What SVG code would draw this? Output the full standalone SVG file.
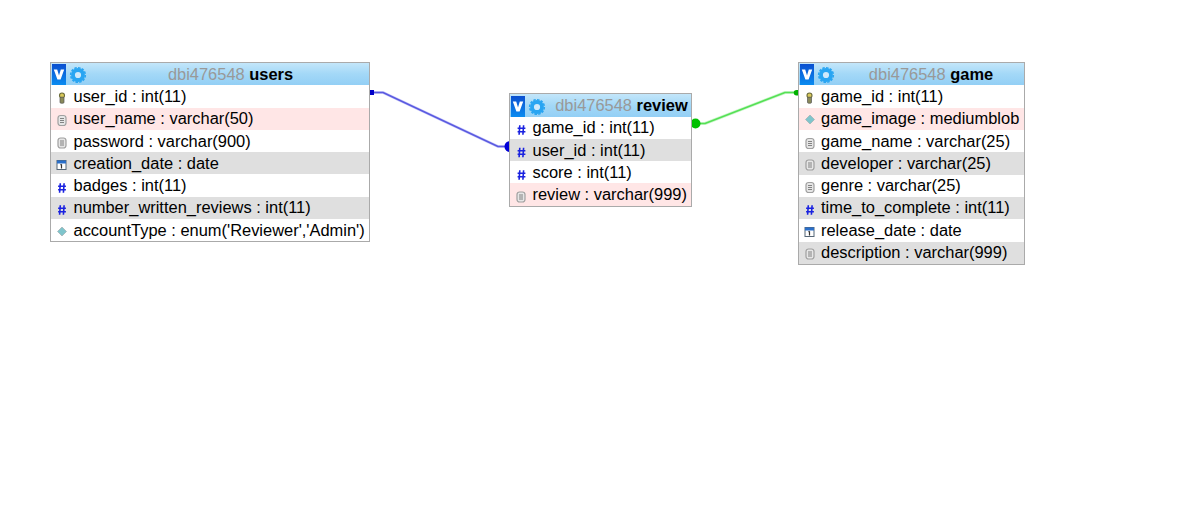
<svg xmlns="http://www.w3.org/2000/svg" width="1190" height="523" viewBox="0 0 1190 523">
<style>
text{font-family:"Liberation Sans",Arial,sans-serif;font-size:16.45px;fill:#000}
.title{text-anchor:middle}
.db{fill:#999}
.b{font-weight:bold}
.frame{fill:#fff;stroke:#aaa;stroke-width:1}
.pink{fill:#ffe6e6}
.gray{fill:#dfdfdf}
.head{fill:url(#hg)}
.conn{fill:none;stroke-width:1.6;stroke-linejoin:round}
.halo{fill:none;stroke-width:3;stroke-linejoin:round;stroke-opacity:.3}
</style>
<defs>
<linearGradient id="hg" x1="0" y1="0" x2="0" y2="1"><stop offset="0" stop-color="#c3e6fa"/><stop offset="0.5" stop-color="#a3d8f7"/><stop offset="1" stop-color="#93cff5"/></linearGradient>
<linearGradient id="vg" x1="0" y1="0" x2="0" y2="1"><stop offset="0" stop-color="#0b4fd0"/><stop offset="1" stop-color="#0a8cf0"/></linearGradient>
<g id="hicons">
<rect x="0" y="0" width="14" height="21" fill="url(#vg)"/>
<path d="M1.800 5.500h3.400l1.800 6 1.800-6h3.400l-3.600 10H5.400z" fill="#fff"/>
<circle cx="26" cy="11" r="5" fill="#cfe9fb" stroke="#29a5f2" stroke-width="3.800"/>
<circle cx="26" cy="11" r="7.300" fill="none" stroke="#29a5f2" stroke-width="1.600" stroke-dasharray="2.500 1.300"/>
</g>
<g id="ikey"><circle cx="0" cy="-2.500" r="2.500" fill="#d9c95a" stroke="#6b6b3a" stroke-width="1.100"/><rect x="-2" y="-.8" width="4" height="6" rx="1" fill="#8a8a5a" stroke="#555" stroke-width=".7"/></g>
<g id="itext"><rect x="-4" y="-5" width="8" height="10" rx="2.500" fill="#e6e6e6" stroke="#a0a0a0" stroke-width="1.200"/><path d="M-2-2h4M-2 0h4M-2 2h4" stroke="#777" stroke-width=".9"/></g>
<g id="inum"><path d="M-1.700-4.800l-.7 9.600M2.100-4.800l-.7 9.600M-3.900-1.700h7.800M-3.900 1.700h7.800" stroke="#1a22e0" stroke-width="1.600" fill="none"/></g>
<g id="idate"><rect x="-4.500" y="-4.500" width="9" height="9" fill="#fff" stroke="#567" stroke-width="1"/><rect x="-4.500" y="-4.500" width="9" height="3" fill="#2a6fc9"/><path d="M0-.8v4.200M-1 .1l1-.9" stroke="#333" stroke-width="1.200" fill="none"/></g>
<g id="ienum"><path d="M0-4.500L4.500 0 0 4.500-4.500 0z" fill="#7fc5cc" stroke="#a6b4b6" stroke-width=".8"/></g>
</defs>

<g id="connectors">
<path class="halo" d="M371 92.500H383L498 146.500H507" stroke="#5a5aee"/>
<path class="conn" d="M371 92.500H383L498 146.500H507" stroke="#5a5ae0"/>
<rect x="369" y="90" width="5" height="5" fill="#0000c8"/>
<path d="M510 141a5.500 5.500 0 0 0 0 11z" fill="#0000d8"/>
<path class="halo" d="M693 123.500H705L785 92.500H798" stroke="#55e055"/>
<path class="conn" d="M693 123.500H705L785 92.500H798" stroke="#55e055"/>
<circle cx="695.500" cy="123.500" r="5" fill="#00c000"/>
<path d="M798 90v5.500h-1.500a2.700 2.700 0 0 1 0-5.500z" fill="#00b000"/>
</g>

<g id="table-users">
<rect class="frame" x="50.500" y="62.500" width="319" height="179"/>
<rect class="head" x="51" y="63" width="318" height="22"/>
<use href="#hicons" x="52" y="64"/>
<text class="title" x="230.500" y="80"><tspan class="db">dbi476548 </tspan><tspan class="b">users</tspan></text>
<rect class="pink" x="51" y="108" width="318" height="22"/>
<rect class="gray" x="51" y="152" width="318" height="22"/>
<rect class="gray" x="51" y="197" width="318" height="22"/>
<use href="#ikey" x="62" y="98"/><text x="73.500" y="102">user_id : int(11)</text>
<use href="#itext" x="62" y="120.500"/><text x="73.500" y="124">user_name : varchar(50)</text>
<use href="#itext" x="62" y="143"/><text x="73.500" y="147">password : varchar(900)</text>
<use href="#idate" x="61.500" y="165"/><text x="73.500" y="169">creation_date : date</text>
<use href="#inum" x="62" y="188"/><text x="73.500" y="191">badges : int(11)</text>
<use href="#inum" x="62" y="210"/><text x="73.500" y="213">number_written_reviews : int(11)</text>
<use href="#ienum" x="62" y="231.500"/><text x="73.500" y="236">accountType : enum('Reviewer','Admin')</text>
</g>

<g id="table-review">
<rect class="frame" x="509.500" y="93.500" width="182" height="113"/>
<rect class="head" x="510" y="94" width="181" height="23"/>
<use href="#hicons" x="511" y="96"/>
<text class="title" x="621.500" y="111"><tspan class="db">dbi476548 </tspan><tspan class="b">review</tspan></text>
<rect class="gray" x="510" y="139" width="181" height="22"/>
<rect class="pink" x="510" y="183" width="181" height="23"/>
<use href="#inum" x="521.500" y="130"/><text x="532.500" y="133">game_id : int(11)</text>
<use href="#inum" x="521.500" y="152.500"/><text x="532.500" y="156">user_id : int(11)</text>
<use href="#inum" x="521.500" y="175"/><text x="532.500" y="178">score : int(11)</text>
<use href="#itext" x="521" y="197"/><text x="532.500" y="200">review : varchar(999)</text>
</g>

<g id="table-game">
<rect class="frame" x="798.500" y="62.500" width="226" height="202"/>
<rect class="head" x="799" y="63" width="225" height="22"/>
<use href="#hicons" x="800" y="64"/>
<text class="title" x="931" y="80"><tspan class="db">dbi476548 </tspan><tspan class="b">game</tspan></text>
<rect class="pink" x="799" y="108" width="225" height="22"/>
<rect class="gray" x="799" y="152" width="225" height="23"/>
<rect class="gray" x="799" y="197" width="225" height="22"/>
<rect class="gray" x="799" y="242" width="225" height="22"/>
<use href="#ikey" x="809.500" y="98"/><text x="821" y="102">game_id : int(11)</text>
<use href="#ienum" x="810" y="119.500"/><text x="821" y="124">game_image : mediumblob</text>
<use href="#itext" x="810" y="143.500"/><text x="821" y="147">game_name : varchar(25)</text>
<use href="#itext" x="810" y="165"/><text x="821" y="169">developer : varchar(25)</text>
<use href="#itext" x="810" y="187.500"/><text x="821" y="191">genre : varchar(25)</text>
<use href="#inum" x="810" y="210"/><text x="821" y="213">time_to_complete : int(11)</text>
<use href="#idate" x="809.500" y="232"/><text x="821" y="236">release_date : date</text>
<use href="#itext" x="810" y="254"/><text x="821" y="258">description : varchar(999)</text>
</g>
</svg>
